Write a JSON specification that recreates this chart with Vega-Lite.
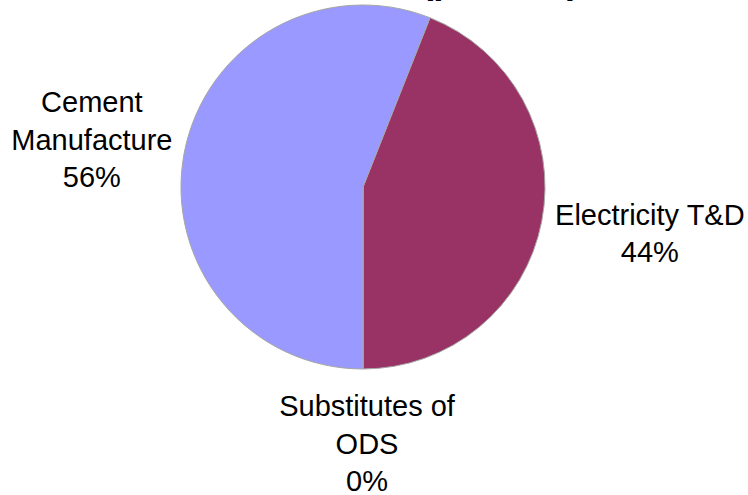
{
  "$schema": "https://vega.github.io/schema/vega-lite/v6.json",
  "width": 726,
  "height": 374,
  "autosize": "none",
  "padding": {"left": 0, "top": 0, "right": 22, "bottom": 121},
  "background": "white",
  "title": {
    "text": ["Industrial Processes", "Emissions, 1990 (percent)"],
    "font": "Liberation Sans",
    "fontSize": 37,
    "fontWeight": "bold",
    "color": "black",
    "anchor": "middle",
    "baseline": "bottom",
    "offset": -38,
    "dx": -12,
    "frame": "group",
    "lineHeight": 42
  },
  "data": {
    "values": [
      {"source": "Electricity T&D", "value": 44, "label": "Electricity T&D\n44%", "rank": 1},
      {"source": "Substitutes of ODS", "value": 0, "label": "Substitutes of\nODS\n0%", "rank": 2},
      {"source": "Cement Manufacture", "value": 56, "label": "Cement\nManufacture\n56%", "rank": 3}
    ]
  },
  "encoding": {
    "theta": {"field": "value", "type": "quantitative", "stack": true, "scale": {"range": [0.377, 6.660]}},
    "order": {"field": "rank", "type": "quantitative"}
  },
  "layer": [
    {
      "mark": {"type": "arc", "outerRadius": 182, "stroke": "#A6A6A6", "strokeWidth": 1},
      "encoding": {
        "color": {
          "field": "source",
          "type": "nominal",
          "scale": {
            "domain": ["Cement Manufacture", "Electricity T&D", "Substitutes of ODS"],
            "range": ["#9999FF", "#993366", "#FFFFCC"]
          },
          "legend": null
        }
      }
    },
    {
      "mark": {
        "type": "text", "radius": 276, "dy": -32,
        "font": "Liberation Sans", "fontSize": 29, "lineBreak": "\n", "lineHeight": 37.5,
        "align": "center", "baseline": "middle", "color": "black"
      },
      "encoding": {"text": {"condition": {"test": "datum.source === 'Cement Manufacture'", "field": "label"}, "value": ""}}
    },
    {
      "mark": {
        "type": "text", "radius": 292, "dy": -26,
        "font": "Liberation Sans", "fontSize": 29, "lineBreak": "\n", "lineHeight": 37.5,
        "align": "center", "baseline": "middle", "color": "black"
      },
      "encoding": {"text": {"condition": {"test": "datum.source === 'Electricity T&D'", "field": "label"}, "value": ""}}
    },
    {
      "mark": {
        "type": "text", "radius": 220, "dx": 4,
        "font": "Liberation Sans", "fontSize": 29, "lineBreak": "\n", "lineHeight": 37.5,
        "align": "center", "baseline": "middle", "color": "black"
      },
      "encoding": {"text": {"condition": {"test": "datum.source === 'Substitutes of ODS'", "field": "label"}, "value": ""}}
    }
  ]
}
